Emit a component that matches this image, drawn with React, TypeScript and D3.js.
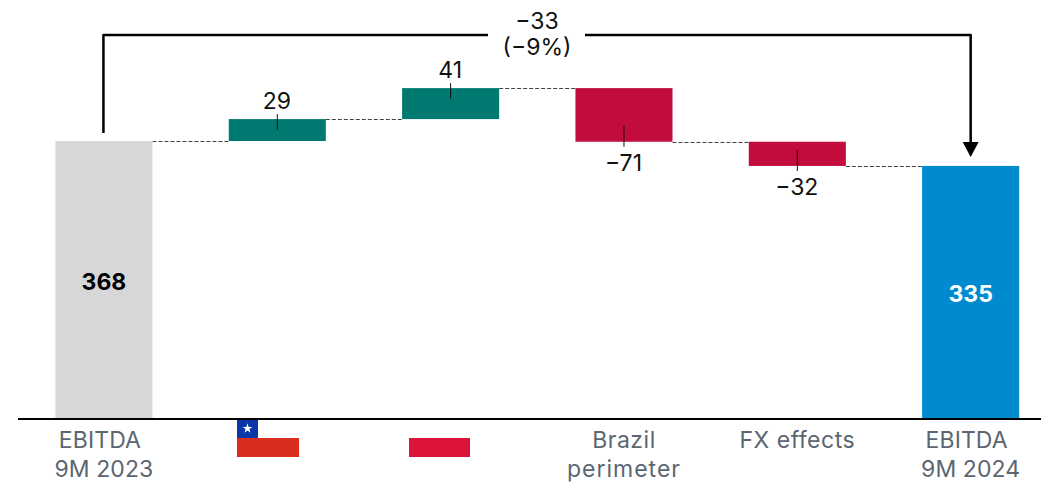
import React from "react";
import * as d3 from "d3";

// EBITDA bridge, 9M 2023 to 9M 2024
const categories = ["start", "chile", "poland", "brazil", "fx", "end"];
const categoryLabels = [["EBITDA", "9M 2023"], [], [], ["Brazil", "perimeter"], ["FX effects"], ["EBITDA", "9M 2024"]];
const startValue = 368;
const endValue = 335;
const deltas = [29, 41, -71, -32];
const deltaLabels = ["29", "41", "−71", "−32"];
const totalChangeLines = ["−33", "(−9%)"];

const FONT = "Inter, 'Noto Sans', sans-serif";
const GREY = "#d6d7d9";
const BLUE = "#008bd0";
const GREEN = "#007a70";
const RED = "#c20c3c";

const x = d3.scaleBand<string>().domain(categories).range([55.4, 1019.2]).paddingInner(0.44);
const y = d3.scaleLinear().domain([0, startValue]).range([419, 141]);

// Running totals give each floating bar its two ends
const levels = d3.cumsum([startValue, ...deltas]);
const floats = deltas.map((d, i) => ({
  key: categories[i + 1],
  value: d,
  from: levels[i],
  to: levels[i + 1],
  label: deltaLabels[i],
}));
const connectors = [startValue, ...floats.map((f) => f.to)];

const cx = (k: string) => (x(k) as number) + x.bandwidth() / 2;

const bracketPath = d3.line()([
  [cx("start") - 0.5, 133],
  [cx("start") - 0.5, 35],
  [488, 35],
]) as string;
const bracketRight = d3.line()([
  [585, 35],
  [cx("end"), 35],
  [cx("end"), 144],
]) as string;

const starPath = d3.symbol().type(d3.symbolStar).size(30)() as string;

// Lowercase-heavy labels get a little more tracking than the capitals and digits
const trackingFor = (t: string) => (/^[A-Z0-9 ]+$/.test(t) ? 0.1 : t === "perimeter" ? 1 : 0.5);

export default function App() {
  const w = x.bandwidth();
  return (
    <svg
      width={1041}
      height={482}
      viewBox="0 0 1041 482"
      style={{ position: "absolute", left: 0, top: 0, display: "block", background: "#fff" }}
      fontFamily={FONT}
    >
      {/* connectors between consecutive bars */}
      {connectors.map((lvl, i) => (
        <line
          key={i}
          x1={(x(categories[i]) as number) + w}
          x2={x(categories[i + 1]) as number}
          y1={Math.round(y(lvl)) + 0.5}
          y2={Math.round(y(lvl)) + 0.5}
          stroke="#444"
          strokeWidth={1}
          strokeDasharray="4 2"
        />
      ))}

      {/* totals */}
      <rect x={x("start")} y={y(startValue)} width={w} height={y(0) - y(startValue)} fill={GREY} />
      <rect x={x("end")} y={y(endValue)} width={w} height={y(0) - y(endValue)} fill={BLUE} />
      <text x={cx("start")} y={290} textAnchor="middle" fontSize={23} fontWeight={700} fill="#000">
        {startValue}
      </text>
      <text x={cx("end")} y={302} textAnchor="middle" fontSize={23} fontWeight={700} fill="#fff">
        {endValue}
      </text>

      {/* floating changes with leader ticks and labels */}
      {floats.map((f) => {
        const top = y(Math.max(f.from, f.to));
        const bottom = y(Math.min(f.from, f.to));
        const up = f.value > 0;
        const c = cx(f.key);
        return (
          <g key={f.key}>
            <rect x={x(f.key)} y={top} width={w} height={bottom - top} fill={up ? GREEN : RED} />
            <line
              x1={c}
              x2={c}
              y1={up ? top - 5 : bottom - 16}
              y2={up ? top + 11 : bottom + 5}
              stroke="#111"
              strokeWidth={1}
            />
            <text
              x={c - 0.5}
              y={up ? top - 10 : bottom + 29}
              textAnchor="middle"
              fontSize={23}
              fill="#111"
            >
              {f.label}
            </text>
          </g>
        );
      })}

      {/* overall change bracket */}
      <path d={bracketPath} fill="none" stroke="#000" strokeWidth={2.5} strokeLinejoin="round" />
      <path d={bracketRight} fill="none" stroke="#000" strokeWidth={2.5} strokeLinejoin="round" />
      <path
        d={`M${cx("end") - 8},142 L${cx("end") + 8},142 L${cx("end")},157 Z`}
        fill="#000"
      />
      {totalChangeLines.map((t, i) => (
        <text key={t} x={537} y={29 + i * 26} textAnchor="middle" fontSize={23} fill="#111">
          {t}
        </text>
      ))}

      {/* baseline */}
      <line x1={18} x2={1041} y1={419} y2={419} stroke="#000" strokeWidth={2} />

      {/* category labels; the EBITDA heading sits slightly left of its period line */}
      {categoryLabels.map((lines, i) =>
        lines.map((t, j) => (
          <text
            key={t}
            x={cx(categories[i]) + (t === "EBITDA" ? -4 : 0)}
            y={448 + (lines.length === 1 ? 0 : j * 29)}
            textAnchor="middle"
            fontSize={23}
            letterSpacing={trackingFor(t)}
            fill="#5b6670"
          >
            {t}
          </text>
        )),
      )}

      {/* Chile flag */}
      <rect x={237} y={420} width={62} height={37} fill="#fff" />
      <rect x={237} y={438} width={62} height={19} fill="#d92e1e" />
      <rect x={237} y={420} width={21} height={18} fill="#0a36a6" />
      <path d={starPath} transform="translate(247.5,428.5)" fill="#fff" />

      {/* Poland flag */}
      <rect x={409} y={438} width={61} height={19} fill="#dc143c" />
    </svg>
  );
}
